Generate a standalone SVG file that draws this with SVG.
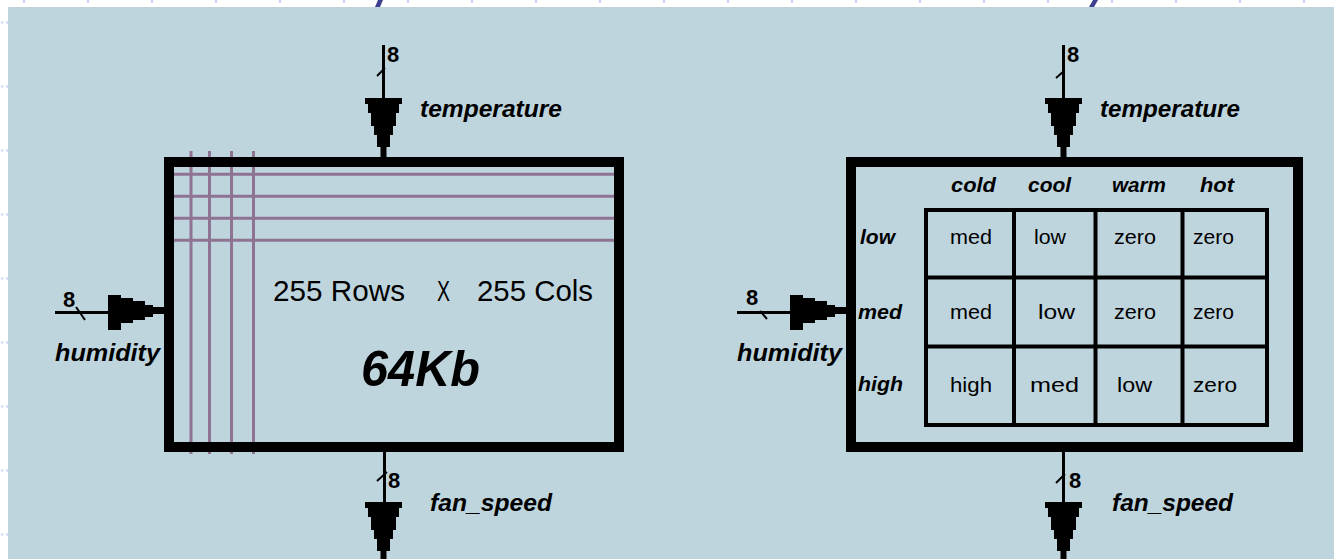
<svg xmlns="http://www.w3.org/2000/svg" width="1334" height="559" viewBox="0 0 1334 559">
<style>
.box{fill:none;stroke:#000;stroke-width:10}
.grid{fill:none;stroke:#000;stroke-width:4}
.wire{stroke:#000;stroke-width:3;fill:none}
.tick{stroke:#000;stroke-width:2;fill:none}
.purple{stroke:#8e7393;stroke-width:3}
.port{font-family:"Liberation Sans",Arial,sans-serif;font-size:23px;font-weight:bold;font-style:italic;fill:#000}
.bus{font-family:"Liberation Sans",Arial,sans-serif;font-size:22px;font-weight:bold;fill:#000}
.hdr{font-family:"Liberation Sans",Arial,sans-serif;font-size:20px;font-weight:bold;font-style:italic;fill:#000}
.cell{font-family:"Liberation Sans",Arial,sans-serif;font-size:20px;fill:#000}
.dim{font-family:"Liberation Sans",Arial,sans-serif;font-size:29px;fill:#000}
.big{font-family:"Liberation Sans",Arial,sans-serif;font-size:50px;font-weight:bold;font-style:italic;fill:#000}
.rt{fill:#c9d3f7}
</style>
<defs>
<path id="arrDown" d="M-18.5,0 H18.5 V6 H15.5 V15 H12.5 V28 H9.5 V37 H6.5 V49 H3 V59 H-3 V49 H-6.5 V37 H-9.5 V28 H-12.5 V15 H-15.5 V6 H-18.5 Z" fill="#000"/>
<path id="arrRight" d="M0,0 H13 V3 H25 V6 H37 V10 H45 V12 H56 V19 H45 V22 H37 V25 H25 V28 H13 V35 H0 Z" fill="#000"/>
</defs>
<rect x="0" y="0" width="1334" height="559" fill="#ffffff"/>
<g id="ruler">
<rect class="rt" x="23" y="0" width="2" height="3"/><rect class="rt" x="87" y="0" width="2" height="3"/><rect class="rt" x="151" y="0" width="2" height="3"/><rect class="rt" x="215" y="0" width="2" height="3"/><rect class="rt" x="279" y="0" width="2" height="3"/><rect class="rt" x="343" y="0" width="2" height="3"/><rect class="rt" x="407" y="0" width="2" height="3"/><rect class="rt" x="471" y="0" width="2" height="3"/><rect class="rt" x="535" y="0" width="2" height="3"/><rect class="rt" x="599" y="0" width="2" height="3"/><rect class="rt" x="663" y="0" width="2" height="3"/><rect class="rt" x="727" y="0" width="2" height="3"/><rect class="rt" x="791" y="0" width="2" height="3"/><rect class="rt" x="855" y="0" width="2" height="3"/><rect class="rt" x="919" y="0" width="2" height="3"/><rect class="rt" x="983" y="0" width="2" height="3"/><rect class="rt" x="1047" y="0" width="2" height="3"/><rect class="rt" x="1111" y="0" width="2" height="3"/><rect class="rt" x="1175" y="0" width="2" height="3"/><rect class="rt" x="1239" y="0" width="2" height="3"/><rect class="rt" x="1303" y="0" width="2" height="3"/>
<rect class="rt" x="1" y="21.5" width="2" height="2"/><rect class="rt" x="6" y="21.5" width="2" height="2"/>
<rect class="rt" x="1" y="85.5" width="2" height="2"/><rect class="rt" x="6" y="85.5" width="2" height="2"/>
<rect class="rt" x="1" y="149.5" width="2" height="2"/><rect class="rt" x="6" y="149.5" width="2" height="2"/>
<rect class="rt" x="1" y="213.5" width="2" height="2"/><rect class="rt" x="6" y="213.5" width="2" height="2"/>
<rect class="rt" x="1" y="277.5" width="2" height="2"/><rect class="rt" x="6" y="277.5" width="2" height="2"/>
<rect class="rt" x="1" y="341.5" width="2" height="2"/><rect class="rt" x="6" y="341.5" width="2" height="2"/>
<rect class="rt" x="1" y="405.5" width="2" height="2"/><rect class="rt" x="6" y="405.5" width="2" height="2"/>
<rect class="rt" x="1" y="469.5" width="2" height="2"/><rect class="rt" x="6" y="469.5" width="2" height="2"/>
<rect class="rt" x="1" y="533.5" width="2" height="2"/><rect class="rt" x="6" y="533.5" width="2" height="2"/>
<polygon points="378,0 383,0 380,7 375,7" fill="#3f3f8f"/>
<polygon points="1093,0 1098,0 1094,7 1089,7" fill="#3f3f8f"/>
</g>
<rect x="8" y="7" width="1326" height="552" fill="#bed5de"/>

<g id="lut-memory">
<line class="purple" x1="191" y1="151" x2="191" y2="454"/>
<line class="purple" x1="209.5" y1="151" x2="209.5" y2="454"/>
<line class="purple" x1="231.5" y1="151" x2="231.5" y2="454"/>
<line class="purple" x1="253.5" y1="151" x2="253.5" y2="454"/>
<line class="purple" x1="169" y1="174.3" x2="619" y2="174.3"/>
<line class="purple" x1="169" y1="196.3" x2="619" y2="196.3"/>
<line class="purple" x1="169" y1="218.3" x2="619" y2="218.3"/>
<line class="purple" x1="169" y1="240.3" x2="619" y2="240.3"/>
<rect class="box" x="169" y="162" width="450" height="285"/>
<text class="dim" x="273" y="301" textLength="132" lengthAdjust="spacingAndGlyphs">255 Rows</text>
<text class="dim" x="437" y="301" textLength="13" lengthAdjust="spacingAndGlyphs">X</text>
<text class="dim" x="477" y="301" textLength="116" lengthAdjust="spacingAndGlyphs">255 Cols</text>
<text class="big" x="361" y="386" textLength="119" lengthAdjust="spacingAndGlyphs">64Kb</text>
</g>

<g id="lut-table">
<rect class="box" x="851" y="162" width="447" height="285"/>
<rect class="grid" x="926" y="210" width="341" height="215"/>
<line class="grid" x1="1014" y1="210" x2="1014" y2="425"/>
<line class="grid" x1="1095.5" y1="210" x2="1095.5" y2="425"/>
<line class="grid" x1="1182.5" y1="210" x2="1182.5" y2="425"/>
<line class="grid" x1="926" y1="277.5" x2="1267" y2="277.5"/>
<line class="grid" x1="926" y1="346.5" x2="1267" y2="346.5"/>
<text class="hdr" x="951" y="192" textLength="45" lengthAdjust="spacingAndGlyphs">cold</text>
<text class="hdr" x="1028" y="192" textLength="43" lengthAdjust="spacingAndGlyphs">cool</text>
<text class="hdr" x="1112" y="192" textLength="54" lengthAdjust="spacingAndGlyphs">warm</text>
<text class="hdr" x="1200" y="192" textLength="34" lengthAdjust="spacingAndGlyphs">hot</text>
<text class="hdr" x="860" y="244" textLength="35" lengthAdjust="spacingAndGlyphs">low</text>
<text class="hdr" x="858" y="319" textLength="44" lengthAdjust="spacingAndGlyphs">med</text>
<text class="hdr" x="858" y="391" textLength="45" lengthAdjust="spacingAndGlyphs">high</text>
<text class="cell" x="950" y="244" textLength="42" lengthAdjust="spacingAndGlyphs">med</text>
<text class="cell" x="1034" y="244" textLength="32" lengthAdjust="spacingAndGlyphs">low</text>
<text class="cell" x="1114" y="244" textLength="42" lengthAdjust="spacingAndGlyphs">zero</text>
<text class="cell" x="1193" y="244" textLength="41" lengthAdjust="spacingAndGlyphs">zero</text>
<text class="cell" x="950" y="319" textLength="42" lengthAdjust="spacingAndGlyphs">med</text>
<text class="cell" x="1038" y="319" textLength="37" lengthAdjust="spacingAndGlyphs">low</text>
<text class="cell" x="1114" y="319" textLength="42" lengthAdjust="spacingAndGlyphs">zero</text>
<text class="cell" x="1193" y="319" textLength="41" lengthAdjust="spacingAndGlyphs">zero</text>
<text class="cell" x="950" y="392" textLength="42" lengthAdjust="spacingAndGlyphs">high</text>
<text class="cell" x="1030" y="392" textLength="49" lengthAdjust="spacingAndGlyphs">med</text>
<text class="cell" x="1117" y="392" textLength="35" lengthAdjust="spacingAndGlyphs">low</text>
<text class="cell" x="1193" y="392" textLength="44" lengthAdjust="spacingAndGlyphs">zero</text>
</g>

<g id="connectors">
<line class="wire" x1="383.5" y1="45" x2="383.5" y2="100"/>
<line class="tick" x1="377" y1="76" x2="385" y2="68"/>
<use href="#arrDown" transform="translate(383.5,98)"/>
<line class="wire" x1="55" y1="312.5" x2="110" y2="312.5"/>
<line class="tick" x1="76" y1="307" x2="85" y2="320"/>
<use href="#arrRight" transform="translate(108,295)"/>
<line class="wire" x1="384.5" y1="450" x2="384.5" y2="504"/>
<line class="tick" x1="377" y1="481" x2="387" y2="472"/>
<use href="#arrDown" transform="translate(383.5,502)"/>
<line class="wire" x1="1063.5" y1="45" x2="1063.5" y2="100"/>
<line class="tick" x1="1056" y1="78" x2="1064" y2="71"/>
<use href="#arrDown" transform="translate(1063.5,98)"/>
<line class="wire" x1="737" y1="312.5" x2="792" y2="312.5"/>
<line class="tick" x1="760" y1="311" x2="767" y2="319"/>
<use href="#arrRight" transform="translate(790,295)"/>
<line class="wire" x1="1063.5" y1="450" x2="1063.5" y2="504"/>
<line class="tick" x1="1056" y1="483" x2="1065" y2="474"/>
<use href="#arrDown" transform="translate(1063.5,502)"/>
</g>

<g id="port-labels">
<text class="bus" x="387" y="62">8</text>
<text class="port" x="420" y="117" textLength="142" lengthAdjust="spacingAndGlyphs">temperature</text>
<text class="bus" x="63" y="307">8</text>
<text class="port" x="55" y="361" textLength="105" lengthAdjust="spacingAndGlyphs">humidity</text>
<text class="bus" x="388" y="488">8</text>
<text class="port" x="430" y="511" textLength="122" lengthAdjust="spacingAndGlyphs">fan_speed</text>
<text class="bus" x="1067" y="62">8</text>
<text class="port" x="1100" y="117" textLength="140" lengthAdjust="spacingAndGlyphs">temperature</text>
<text class="bus" x="746" y="305">8</text>
<text class="port" x="737" y="361" textLength="105" lengthAdjust="spacingAndGlyphs">humidity</text>
<text class="bus" x="1069" y="488">8</text>
<text class="port" x="1112" y="511" textLength="121" lengthAdjust="spacingAndGlyphs">fan_speed</text>
</g>
</svg>
